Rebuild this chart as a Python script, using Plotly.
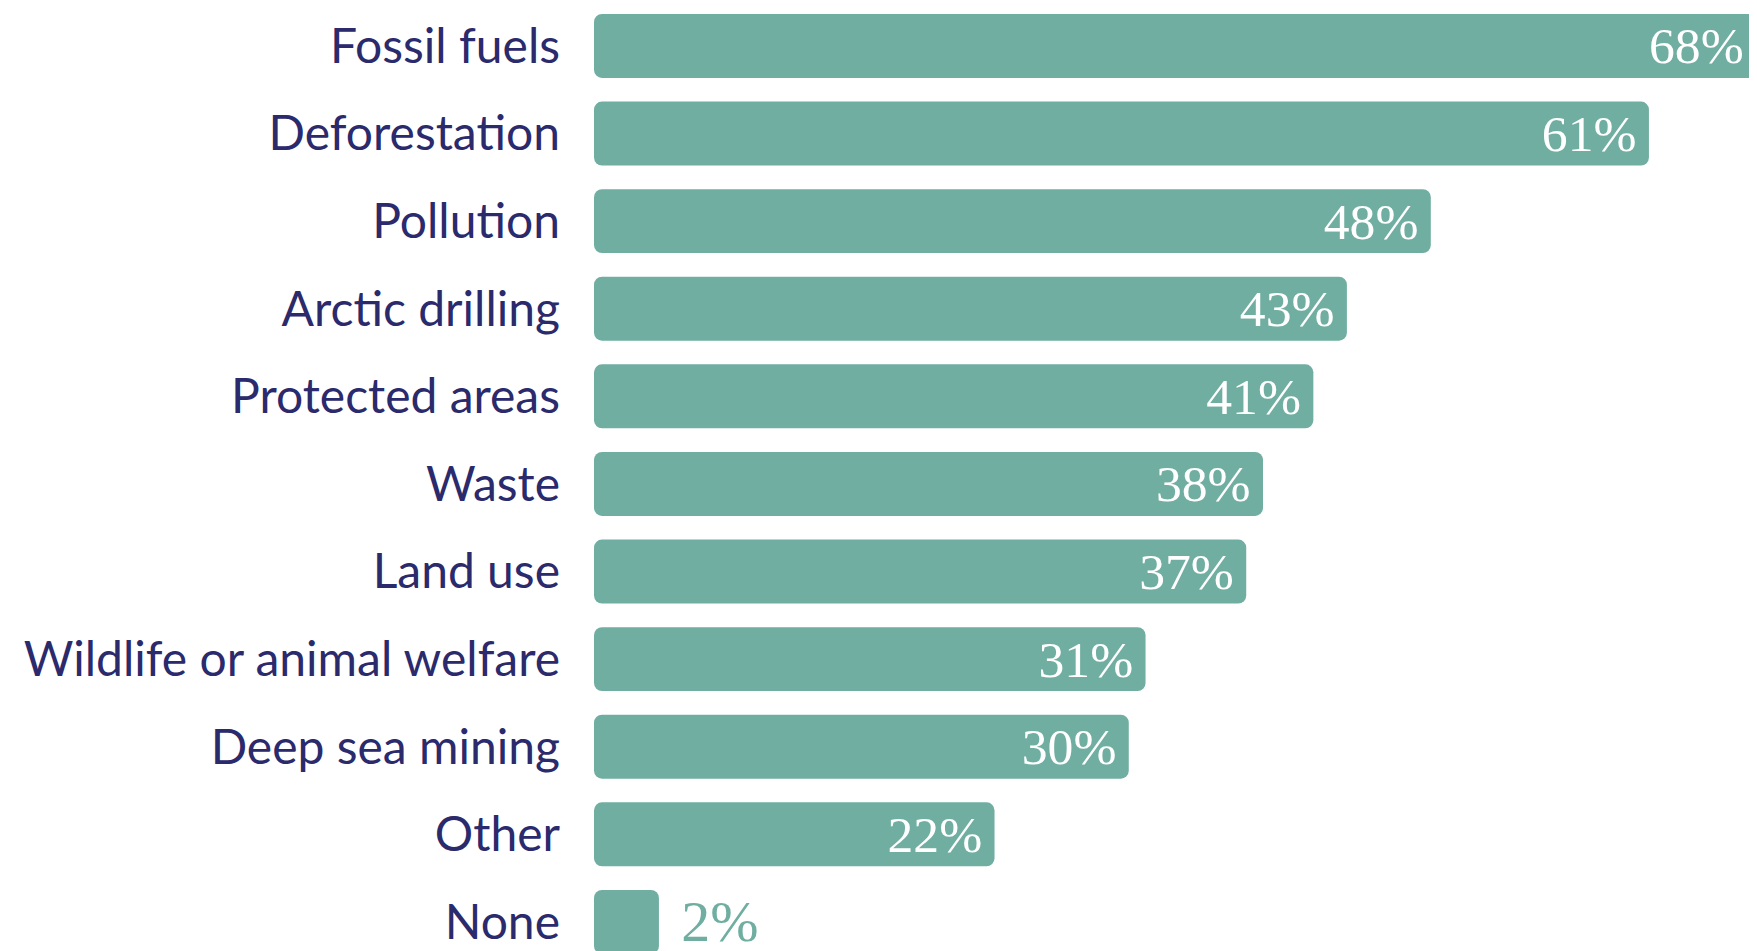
import plotly.graph_objects as go

categories = ["Fossil fuels", "Deforestation", "Pollution", "Arctic drilling",
              "Protected areas", "Waste", "Land use", "Wildlife or animal welfare",
              "Deep sea mining", "Other", "None"]
values = [68, 61, 48, 43, 41, 38, 37, 31, 30, 22, 2]

BAR = "#6FAEA1"
NAVY = "#2A2A6C"
STUB = 1.87   # visual stub so small bars remain visible
XMAX = 67.44  # visible right end of the value axis

texts = []
positions = []
for v in values:
    if v >= 10:
        pad = "\u200a" + ("\u2009" if v > XMAX else "")
        texts.append(f"{v}%{pad}")
        positions.append("inside")
    else:
        texts.append(f"\u00a0\u200a{v}%")
        positions.append("outside")

fig = go.Figure(go.Bar(
    y=categories,
    x=[v + STUB for v in values],
    base=-STUB,
    orientation="h",
    marker=dict(color=BAR, cornerradius=8, line=dict(width=0)),
    text=texts,
    textposition=positions,
    insidetextanchor="end",
    textangle=0,
    constraintext="none",
    insidetextfont=dict(family="Liberation Serif", size=58, color="white"),
    outsidetextfont=dict(family="Liberation Serif", size=58, color=BAR),
    hoverinfo="skip",
))

fig.update_layout(
    width=1749, height=943,
    margin=dict(l=586, r=0, t=0, b=0),
    paper_bgcolor="white", plot_bgcolor="white",
    bargap=0.27,
    showlegend=False,
    xaxis=dict(visible=False, range=[-STUB, XMAX], fixedrange=True),
    yaxis=dict(
        categoryorder="array", categoryarray=categories,
        range=[10.332, -0.433],
        showgrid=False, zeroline=False, showline=False, ticks="",
        ticklabelstandoff=33,
        tickfont=dict(family="Lato", size=48, color=NAVY),
    ),
)

fig.write_html("out.html")
